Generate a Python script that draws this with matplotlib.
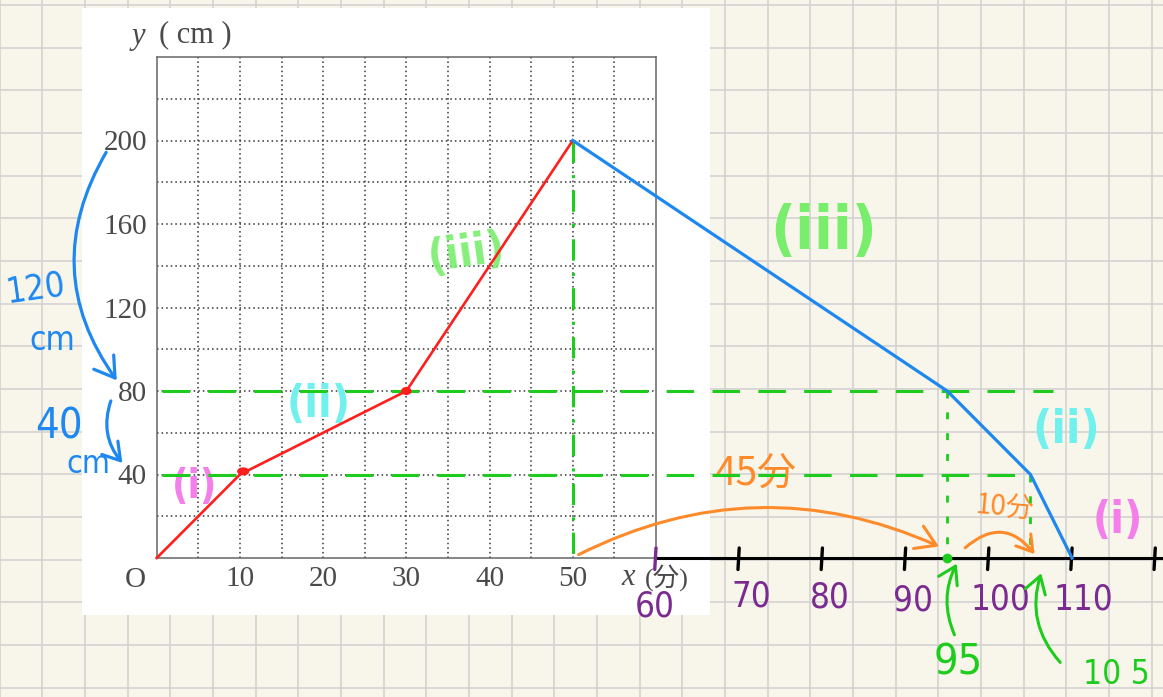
import numpy as np
import matplotlib
matplotlib.use("Agg")
import matplotlib.pyplot as plt
from matplotlib import font_manager
from matplotlib.patches import FancyArrowPatch, Rectangle, Ellipse

# ---- data -------------------------------------------------------------
# water level while filling (red) and while draining (blue)
fill_x = [0, 10, 30, 50]
fill_y = [0, 40, 80, 200]
drain_x = [50, 95, 105, 110]
drain_y = [200, 80, 40, 0]

x_tick_values = [10, 20, 30, 40, 50]
y_tick_values = [40, 80, 120, 160, 200]
ext_tick_values = [60, 70, 80, 90, 100, 110, 120]
ext_tick_labels = ["60", "70", "80", "90", "100", "110"]
guide_levels = [80, 40]
guide_times = [95, 105]

# ---- colours ------------------------------------------------------------
PAPER = "#F8F6EA"
PAPER_GRID = "#D3D3D3"
INK = "#4A4A4A"
RED = "#FF1E1E"
BLUE = "#1E88F0"
GREEN = "#1ECC1E"
LGREEN = "#78EE6C"
CYAN = "#72F0EE"
PINK = "#F47EEA"
ORANGE = "#FF8A2A"
PURPLE = "#7B2A8F"

# narrow sans for the pen notes, whichever is installed
_fonts = font_manager.fontManager.ttflist
if any(f.name == "Liberation Sans Narrow" for f in _fonts):
    HAND = dict(family=["Liberation Sans Narrow", "DejaVu Sans"])
elif any(f.name == "DejaVu Sans" and f.stretch == "condensed" for f in _fonts):
    HAND = dict(family=["DejaVu Sans"], stretch="condensed")
else:
    HAND = dict(family=["DejaVu Sans"])
CJK = dict(family=["Noto Sans CJK JP", "DejaVu Sans"])

W, H = 1163, 697
fig = plt.figure(figsize=(W / 100, H / 100), dpi=100)
fig.patch.set_facecolor(PAPER)

# ---- grid paper background (pixel coordinates) -------------------------
bg = fig.add_axes([0, 0, 1, 1], zorder=0)
bg.set_xlim(0, W)
bg.set_ylim(H, 0)
bg.axis("off")
step = 42.67
for gx in np.arange(-0.4, W + 1, step):
    bg.axvline(gx, color=PAPER_GRID, lw=1.2)
for gy in np.arange(5, H + 1, step):
    bg.axhline(gy, color=PAPER_GRID, lw=1.2)
bg.add_patch(Rectangle((82, 8), 628, 607, facecolor="white", edgecolor="none", zorder=3))

# ---- textbook chart --------------------------------------------------------
left, right, top, bottom = 156.7, 656.0, 57.0, 558.0
ax = fig.add_axes([left / W, 1 - bottom / H, (right - left) / W, (bottom - top) / H], zorder=2)
ax.set_facecolor("none")
ax.set_xlim(0, 60)
ax.set_ylim(0, 240)

for s in ax.spines.values():
    s.set_color("#666666")
    s.set_linewidth(1.1)

for gx in np.arange(5, 60, 5):
    ax.axvline(gx, color="#333333", lw=1.1, ls=(0, (1, 2)), zorder=1)
for gy in np.arange(20, 240, 20):
    ax.axhline(gy, color="#333333", lw=1.1, ls=(0, (1, 2)), zorder=1)

serif = ["Liberation Serif", "DejaVu Serif"]
ax.set_xticks(x_tick_values)
ax.set_xticklabels([str(v) for v in x_tick_values], family=serif, fontsize=21, color=INK)
ax.set_yticks(y_tick_values)
ax.set_yticklabels([str(v) for v in y_tick_values], family=serif, fontsize=21, color=INK)
ax.tick_params(axis="both", length=0)
ax.tick_params(axis="x", pad=6)
ax.tick_params(axis="y", pad=7)

ax.text(-2.6, -10.5, "O", family=serif, fontsize=21, color=INK, ha="center", va="center")
ax.text(-2.2, 250, "y", family=serif, style="italic", fontsize=22, color=INK,
        ha="center", va="center", clip_on=False)
ax.text(4.6, 250.5, "( cm )", family=serif, fontsize=22, color=INK,
        ha="center", va="center", clip_on=False)
ax.text(56.6, -9.5, "x", family=serif, style="italic", fontsize=22, color=INK,
        ha="center", va="center", clip_on=False)
ax.text(61.3, -9.5, "(分)", family=["Liberation Serif", "Noto Sans CJK JP"], fontsize=19,
        color=INK, ha="center", va="center", clip_on=False)

# ---- extended time axis ---------------------------------------------------
ax.plot([60, 121], [0, 0], color="black", lw=2.2, clip_on=False, zorder=5)
for tv in ext_tick_values:
    c = PURPLE if tv == 60 else "black"
    ax.plot([tv, tv - 0.15], [4.8, -5.5], color=c, lw=2.4, clip_on=False, zorder=6,
            solid_capstyle="round")
ext_label_pos = [(59.8, -23.0), (71.5, -18.5), (80.9, -19.0), (90.9, -20.3),
                 (101.4, -20.0), (111.4, -20.0)]
for (px, py), lab in zip(ext_label_pos, ext_tick_labels):
    ax.text(px, py, lab, fontsize=25, color=PURPLE, ha="center", va="center",
            clip_on=False, **HAND)

# ---- guide lines -----------------------------------------------------------
ax.plot([0.6, 107.7], [guide_levels[0], guide_levels[0]], color=GREEN, lw=2.2,
        ls=(0, (9, 6)), clip_on=False, zorder=4)
ax.plot([0.6, drain_x[2]], [guide_levels[1], guide_levels[1]], color=GREEN, lw=2.2,
        ls=(0, (9, 6)), clip_on=False, zorder=4)
ax.plot([50, 50], [fill_y[-1], 0], color=GREEN, lw=2.2, ls=(0, (7, 4, 1, 4)),
        clip_on=False, zorder=4)
ax.plot([guide_times[0]] * 2, [guide_levels[0], 0], color=GREEN, lw=2.0, ls=(0, (2.5, 5)),
        clip_on=False, zorder=4)
ax.plot([guide_times[1]] * 2, [guide_levels[1], 0], color=GREEN, lw=2.0, ls=(0, (2.5, 5)),
        clip_on=False, zorder=4)
ax.plot([guide_times[0]], [0], "o", color=GREEN, ms=6, clip_on=False, zorder=7)

# ---- water level lines -----------------------------------------------------
ax.plot(fill_x, fill_y, color=RED, lw=1.9, clip_on=False, zorder=6)
ax.plot(drain_x, drain_y, color=BLUE, lw=2.3, clip_on=False, zorder=6,
        solid_joinstyle="miter")
ax.add_patch(Ellipse((fill_x[1] + 0.4, fill_y[1] + 1.5), 1.3, 3.2, color=RED, zorder=7))
ax.add_patch(Ellipse((fill_x[2], fill_y[2]), 1.1, 3.2, color=RED, zorder=7))


def curved_arrow(p0, p1, rad, color, lw=2.2, head=12):
    arr = FancyArrowPatch(p0, p1, connectionstyle=f"arc3,rad={rad}",
                          arrowstyle=f"->,head_length={head/10:.2f},head_width={head/16:.2f}",
                          color=color, lw=lw, mutation_scale=10, clip_on=False,
                          transform=ax.transData, zorder=8, capstyle="round")
    ax.add_patch(arr)


# blue bracket arrows beside the y axis
curved_arrow((-5.9, 195.5), (-4.6, 84), 0.33, BLUE, lw=2.3, head=14)
curved_arrow((-5.4, 76.5), (-3.9, 44.5), 0.3, BLUE, lw=2.3, head=12)
ax.text(-14.6, 129, "120", fontsize=25, color=BLUE, ha="center", va="center",
        rotation=8, clip_on=False, **HAND)
ax.text(-12.6, 104, "cm", fontsize=24, color=BLUE, ha="center", va="center",
        clip_on=False, **HAND)
ax.text(-11.8, 63, "40", fontsize=30, color=BLUE, ha="center", va="center",
        clip_on=False, **HAND)
ax.text(-8.2, 45, "cm", fontsize=23, color=BLUE, ha="center", va="center",
        clip_on=False, **HAND)

# orange interval arrows
curved_arrow((50.4, 1.0), (94.3, 5.0), -0.24, ORANGE, lw=2.2, head=14)
curved_arrow((96.9, 4.0), (105.7, 0.8), -0.55, ORANGE, lw=2.2, head=11)
ax.text(71.9, 40.5, "45分", fontsize=28, color=ORANGE,
        ha="center", va="center", clip_on=False, **CJK)
ax.text(101.9, 24.5, "10分", fontsize=20, color=ORANGE,
        ha="center", va="center", rotation=-5, clip_on=False, **CJK)

# green pointer arrows to the crossing times
curved_arrow((96.0, -38.0), (96.3, -1.5), -0.25, GREEN, lw=2.2, head=12)
curved_arrow((108.8, -51.0), (106.4, -6.0), -0.3, GREEN, lw=2.2, head=12)
ax.text(96.3, -50, "95", fontsize=31, color=GREEN, ha="center", va="center",
        clip_on=False, **HAND)
ax.text(115.3, -56, "10 5", fontsize=24, color=GREEN, ha="center", va="center",
        clip_on=False, **HAND)

# segment labels
ax.text(4.5, 34, "(i)", fontsize=29, color=PINK, ha="center", va="center",
        weight="bold", clip_on=False, **HAND)
ax.text(19.4, 73.5, "(ii)", fontsize=32, color=CYAN, ha="center", va="center",
        weight="bold", clip_on=False, **HAND)
ax.text(37.2, 146, "(iii)", fontsize=32, color=LGREEN, ha="center", va="center",
        weight="bold", rotation=8, alpha=0.9, clip_on=False, zorder=5, **HAND)
ax.text(80.1, 156, "(iii)", fontsize=44, color=LGREEN, ha="center", va="center",
        weight="bold", clip_on=False, **HAND)
ax.text(109.3, 61, "(ii)", fontsize=34, color=CYAN, ha="center", va="center",
        weight="bold", clip_on=False, **HAND)
ax.text(115.5, 18, "(i)", fontsize=32, color=PINK, ha="center", va="center",
        weight="bold", clip_on=False, **HAND)

fig.savefig("out.png", dpi=100, facecolor=PAPER)
